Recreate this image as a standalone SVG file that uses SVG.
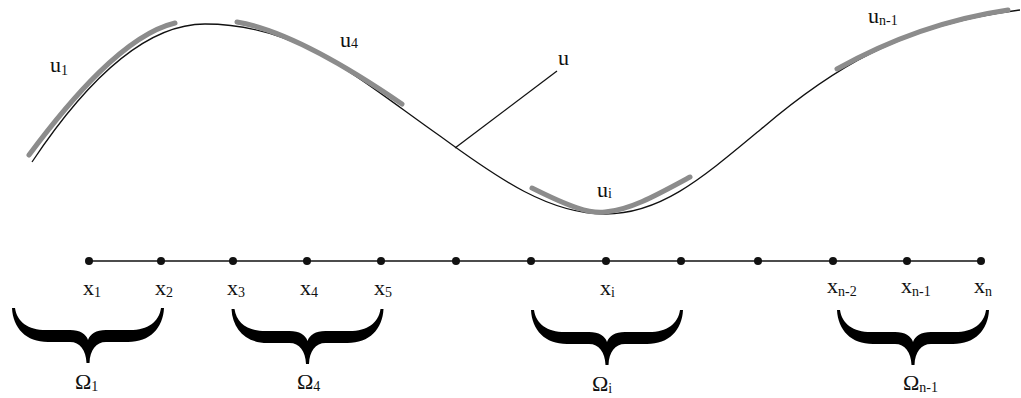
<svg xmlns="http://www.w3.org/2000/svg" xmlns:xlink="http://www.w3.org/1999/xlink" width="1021" height="398" viewBox="0 0 1021 398">
<style>
  .t { font-family: "Liberation Serif", "Times New Roman", serif; font-size: 22px; fill: #111; }
  .s { font-size: 14px; }
  .curve { fill: none; stroke: #111; stroke-width: 1.3; }
  .seg { fill: none; stroke: #8c8c8c; stroke-width: 5; stroke-linecap: round; }
  .axis { fill: none; stroke: #111; stroke-width: 1.3; }
  .dot { fill: #111; }
  .brace { fill: #000; }
</style>
<defs>
  <path id="brace" d="M -76,0 C -75,20 -62,34 -40,34 L -18,34 C -8,34 -2,42 -1.5,55 L 1.5,55 C 2,42 8,34 18,34 L 40,34 C 62,34 75,20 76,0 L 73,0 C 71,14 60,22 42,22 L 18,22 C 8,22 2,26 0,32 C -2,26 -8,22 -18,22 L -42,22 C -60,22 -71,14 -73,0 Z"/>
</defs>
<rect width="1021" height="398" fill="#fff"/>

<g id="connectors">
  <path id="u-curve" class="curve" d="M32,162 C80,90 140,24 205,24 C300,24 360,80 440,136 C500,180 550,214 605,214 C660,214 700,180 760,130 C830,70 900,25 1020,10"/>
  <line id="u-pointer" class="curve" x1="455" y1="148" x2="557" y2="71"/>
  <line id="x-axis" class="axis" x1="89" y1="261" x2="981" y2="261"/>
</g>

<g id="segments">
  <path id="seg-u1" class="seg" d="M29,155 C70,100 125,35 175,23"/>
  <path id="seg-u4" class="seg" d="M237,22 C285,30 345,65 402,104"/>
  <path id="seg-ui" class="seg" d="M532,188 C570,207 590,214 605,212 C630,210 655,196 690,177"/>
  <path id="seg-un1" class="seg" d="M837,69 C880,45 940,20 1008,10"/>
</g>

<g id="u-labels">
  <text class="t" x="50" y="72">u<tspan class="s" dy="3">1</tspan></text>
  <text class="t" x="340" y="47">u<tspan class="s" dy="1">4</tspan></text>
  <text class="t" x="558" y="65">u</text>
  <text class="t" x="597" y="197">u<tspan class="s" dy="1">i</tspan></text>
  <text class="t" x="868" y="23">u<tspan class="s" dy="2">n-1</tspan></text>
</g>

<g id="nodes">
  <g id="n1"><circle class="dot" cx="89" cy="261" r="4"/><text class="t" x="83" y="295">x<tspan class="s" dy="2">1</tspan></text></g>
  <g id="n2"><circle class="dot" cx="161" cy="261" r="4"/><text class="t" x="155" y="295">x<tspan class="s" dy="2">2</tspan></text></g>
  <g id="n3"><circle class="dot" cx="233" cy="261" r="4"/><text class="t" x="227" y="295">x<tspan class="s" dy="2">3</tspan></text></g>
  <g id="n4"><circle class="dot" cx="307" cy="261" r="4"/><text class="t" x="300" y="295">x<tspan class="s" dy="2">4</tspan></text></g>
  <g id="n5"><circle class="dot" cx="381" cy="261" r="4"/><text class="t" x="374" y="295">x<tspan class="s" dy="2">5</tspan></text></g>
  <g id="n6"><circle class="dot" cx="456" cy="261" r="4"/></g>
  <g id="n7"><circle class="dot" cx="531" cy="261" r="4"/></g>
  <g id="ni"><circle class="dot" cx="606" cy="261" r="4"/><text class="t" x="600" y="295">x<tspan class="s" dy="2">i</tspan></text></g>
  <g id="n9"><circle class="dot" cx="681" cy="261" r="4"/></g>
  <g id="n10"><circle class="dot" cx="758" cy="261" r="4"/></g>
  <g id="nn2"><circle class="dot" cx="833" cy="261" r="4"/><text class="t" x="827" y="293">x<tspan class="s" dy="3">n-2</tspan></text></g>
  <g id="nn1"><circle class="dot" cx="907" cy="261" r="4"/><text class="t" x="901" y="293">x<tspan class="s" dy="3">n-1</tspan></text></g>
  <g id="nn"><circle class="dot" cx="981" cy="261" r="4"/><text class="t" x="974" y="293">x<tspan class="s" dy="3">n</tspan></text></g>
</g>

<g id="omega1"><use xlink:href="#brace" href="#brace" class="brace" transform="translate(88,308)"/><text class="t" x="75" y="389">Ω<tspan class="s" dy="2">1</tspan></text></g>
<g id="omega4"><use xlink:href="#brace" href="#brace" class="brace" transform="translate(307.5,309)"/><text class="t" x="297" y="389">Ω<tspan class="s" dy="2">4</tspan></text></g>
<g id="omegai"><use xlink:href="#brace" href="#brace" class="brace" transform="translate(607,310)"/><text class="t" x="592" y="391">Ω<tspan class="s" dy="2">i</tspan></text></g>
<g id="omegan1"><use xlink:href="#brace" href="#brace" class="brace" transform="translate(913,310)"/><text class="t" x="903" y="390">Ω<tspan class="s" dy="2">n-1</tspan></text></g>
</svg>
